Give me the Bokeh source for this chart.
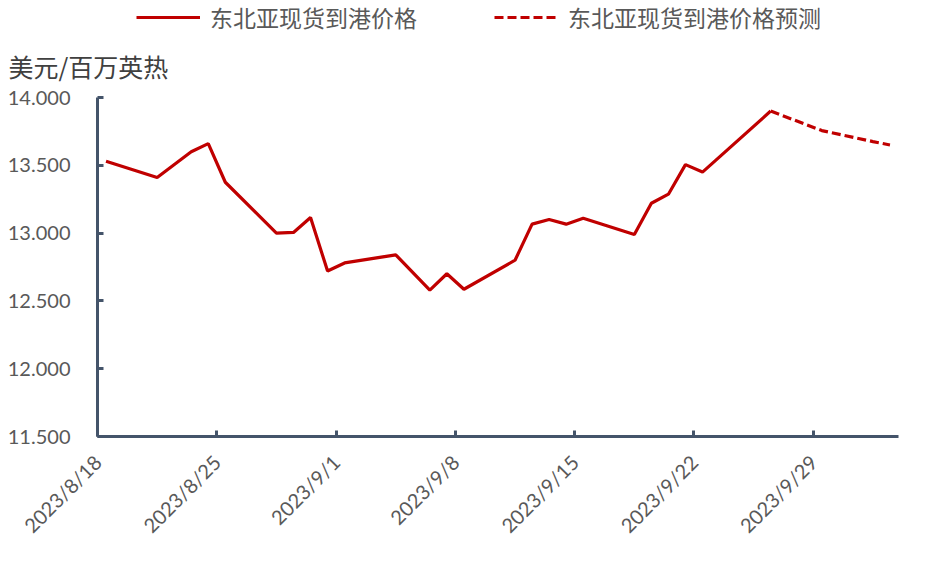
import math
import pandas as pd
from bokeh.plotting import figure
from bokeh.layouts import column
from bokeh.models import FixedTicker, Legend, LegendItem, Title, ColumnDataSource, Range1d
from bokeh.embed import file_html
from bokeh.resources import INLINE

# ---- data ----
start_date = "2023-08-18"
axis_days = 47

actual_dates = ["2023-08-18", "2023-08-21", "2023-08-23", "2023-08-24", "2023-08-25",
                "2023-08-28", "2023-08-29", "2023-08-30", "2023-08-31", "2023-09-01",
                "2023-09-04", "2023-09-06", "2023-09-07", "2023-09-08", "2023-09-11",
                "2023-09-12", "2023-09-13", "2023-09-14", "2023-09-15", "2023-09-18",
                "2023-09-19", "2023-09-20", "2023-09-21", "2023-09-22", "2023-09-26"]
actual_values = [13.53, 13.41, 13.60, 13.66, 13.375,
                 13.00, 13.005, 13.115, 12.72, 12.78,
                 12.84, 12.58, 12.70, 12.586, 12.80,
                 13.066, 13.10, 13.066, 13.11, 12.99,
                 13.22, 13.287, 13.505, 13.45, 13.90]

forecast_dates = ["2023-09-26", "2023-09-29", "2023-10-02", "2023-10-03"]
forecast_values = [13.90, 13.756, 13.675, 13.65]

series_names = ["东北亚现货到港价格", "东北亚现货到港价格预测"]
y_title = "美元/百万英热"

x_tick_labels = ["2023/8/18", "2023/8/25", "2023/9/1", "2023/9/8",
                 "2023/9/15", "2023/9/22", "2023/9/29"]
y_ticks = [11.5, 12.0, 12.5, 13.0, 13.5, 14.0]
y_tick_labels = ["11.500", "12.000", "12.500", "13.000", "13.500", "14.000"]

# ---- helpers ----
t0 = pd.Timestamp(start_date)


def day_pos(dates):
    return [float((pd.Timestamp(d) - t0).days) + 0.5 for d in dates]


x_tick_pos = [float((pd.to_datetime(s, format="%Y/%m/%d") - t0).days) for s in x_tick_labels]

RED = "#C00000"
AXIS = "#44546A"
TXT = "#595959"
NUM_FONT = "Lato"
CJK_FONT = "Noto Sans CJK SC"
W = 924
HEAD_H = 34
MAIN_H = 548 - HEAD_H
LINE_W = 3.2
DASH = "9 4"

src_a = ColumnDataSource(dict(x=day_pos(actual_dates), y=actual_values))
src_f = ColumnDataSource(dict(x=day_pos(forecast_dates), y=forecast_values))

# ---- main chart ----
p = figure(width=W, height=MAIN_H, output_backend="svg", toolbar_location=None,
           x_range=Range1d(0, axis_days), y_range=Range1d(11.5, 14.0),
           min_border_left=97, min_border_right=26, min_border_top=50, min_border_bottom=111)
p.outline_line_color = None
p.xgrid.visible = False
p.ygrid.visible = False
p.background_fill_color = "white"
p.border_fill_color = "white"

r1 = p.line("x", "y", source=src_a, line_color=RED, line_width=LINE_W)
r2 = p.line("x", "y", source=src_f, line_color=RED, line_width=LINE_W, line_dash=DASH)

for ax in (p.xaxis[0], p.yaxis[0]):
    ax.axis_line_color = AXIS
    ax.axis_line_width = 3
    ax.major_tick_line_color = AXIS
    ax.major_tick_line_width = 3
    ax.major_tick_in = 6
    ax.major_tick_out = 0
    ax.minor_tick_line_color = None
    ax.major_label_text_color = TXT
    ax.major_label_text_font = NUM_FONT
    ax.major_label_text_font_size = "20px"

p.xaxis.ticker = FixedTicker(ticks=x_tick_pos)
p.xaxis.major_label_overrides = {pos: lab for pos, lab in zip(x_tick_pos, x_tick_labels)}
p.xaxis.major_label_orientation = math.pi / 4
p.xaxis.major_label_standoff = 22

p.yaxis.ticker = FixedTicker(ticks=y_ticks)
p.yaxis.major_label_overrides = {v: lab for v, lab in zip(y_ticks, y_tick_labels)}
p.yaxis.major_label_standoff = 27

# unit title above the frame, shifted left over the tick labels
p.add_layout(Title(text=y_title, align="left", offset=-89, standoff=25,
                   vertical_align="middle",
                   text_font=CJK_FONT, text_font_size="25px", text_font_style="normal",
                   text_color="#404040"), "above")

# ---- header strip holding the legend ----
h = figure(width=W, height=HEAD_H, output_backend="svg", toolbar_location=None,
           x_range=Range1d(0, 1), y_range=Range1d(0, 1),
           x_axis_location=None, y_axis_location=None,
           min_border_left=97, min_border_right=26, min_border_top=0, min_border_bottom=0)
h.outline_line_color = None
h.xgrid.visible = False
h.ygrid.visible = False
h.border_fill_color = "white"

k1 = h.line("x", "y", source=src_a, line_color=RED, line_width=LINE_W, visible=False)
k2 = h.line("x", "y", source=src_f, line_color=RED, line_width=LINE_W, line_dash=DASH,
            visible=False)

legend = Legend(items=[LegendItem(label=series_names[0], renderers=[k1]),
                       LegendItem(label=series_names[1], renderers=[k2])],
                orientation="horizontal", location=(39, 0),
                border_line_color=None, background_fill_alpha=0,
                inactive_fill_alpha=0, click_policy="none",
                padding=0, margin=0, spacing=77, glyph_width=64, glyph_height=24,
                label_height=24, label_standoff=10,
                label_text_font=CJK_FONT, label_text_font_size="23px",
                label_text_color=TXT)
h.add_layout(legend)

page = column(h, p, spacing=0)
open("out.html", "w").write(file_html(page, INLINE))
